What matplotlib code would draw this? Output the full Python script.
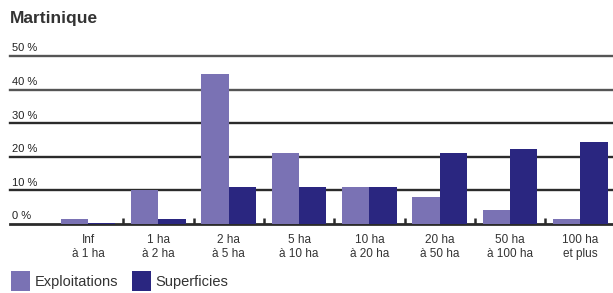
import matplotlib
matplotlib.use("Agg")
from matplotlib import pyplot as plt
import numpy as np

title = "Martinique"
categories = ["Inf\nà 1 ha", "1 ha\nà 2 ha", "2 ha\nà 5 ha", "5 ha\nà 10 ha",
              "10 ha\nà 20 ha", "20 ha\nà 50 ha", "50 ha\nà 100 ha", "100 ha\net plus"]
exploitations = [1.4, 10.0, 44.7, 21.1, 11.1, 8.1, 4.2, 1.4]
superficies = [0.3, 1.4, 11.1, 11.1, 11.1, 21.1, 22.4, 24.3]
y_ticks = [0, 10, 20, 30, 40, 50]
y_labels = ["0 %", "10 %", "20 %", "30 %", "40 %", "50 %"]

light = '#7a72b4'
dark = '#2a2680'
grid_color = '#2b2b2b'

plt.rcParams['font.family'] = ['Liberation Sans Narrow', 'Liberation Sans', 'DejaVu Sans']

W, H = 613, 293
fig = plt.figure(figsize=(W / 100, H / 100), dpi=100)
fig.patch.set_facecolor('white')

# axes placed in pixel terms: 0 % at y=224, 50 % at y=56, x from 10 to 612
ax = fig.add_axes([10 / W, (H - 224) / H, 602 / W, (224 - 56) / H])
ax.set_facecolor('white')

x = np.arange(len(categories))
w = 0.39
ax.bar(x - w / 2, exploitations, width=w, color=light, label='Exploitations', zorder=3)
ax.bar(x + w / 2, superficies, width=w, color=dark, label='Superficies', zorder=3)

for v, lab in zip(y_ticks, y_labels):
    ax.axhline(v, color=grid_color if v < 40 else '#555555',
               lw=1.7 if v > 0 else 2.0, zorder=2, clip_on=False)
    ax.text(0.004, v + 0.8, lab, transform=ax.get_yaxis_transform(),
            ha='left', va='bottom', fontsize=8, color='#222222')

ax.set_xlim(-1.11, 7.45)
ax.set_ylim(0, 50)
for s in ax.spines.values():
    s.set_visible(False)

ax.set_yticks([])
ax.set_xticks(x)
ax.set_xticklabels(categories, fontsize=8.5, color='#333333', linespacing=1.3)
ax.tick_params(axis='x', which='major', length=0, pad=7)
ax.set_xticks(x[:-1] + 0.5, minor=True)
ax.tick_params(axis='x', which='minor', direction='in', length=4, width=1.8, color=grid_color)

fig.text(10 / W, 1 - 18 / H, title, fontsize=12.5, fontweight='bold',
         color='#333333', ha='left', va='center')

ax.legend(loc='lower left', bbox_to_anchor=(11 / W, 2 / H), bbox_transform=fig.transFigure,
          ncol=2, frameon=False, fontsize=10.5, handlelength=1.3, handleheight=1.7,
          handletextpad=0.3, columnspacing=1.0, borderaxespad=0, borderpad=0,
          labelcolor='#333333')

plt.savefig('out.png', dpi=100, facecolor='white')
